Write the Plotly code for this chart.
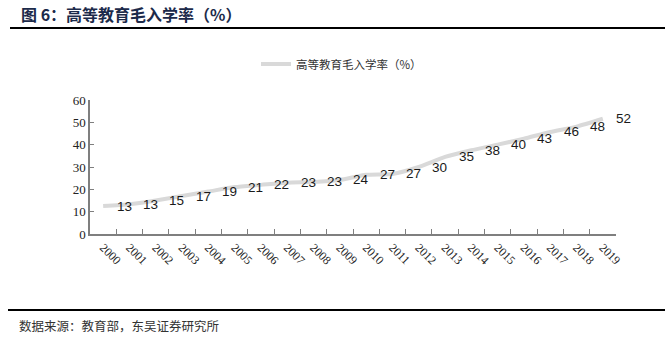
import plotly.graph_objects as go

years = [str(y) for y in range(2000, 2020)]
rates = [12.5, 13.3, 15.0, 17.0, 19.0, 21.0, 22.0, 23.0, 23.3, 24.2,
         26.5, 26.9, 30.0, 34.5, 37.5, 40.0, 42.7, 45.7, 48.1, 51.6]
labels = ["13", "13", "15", "17", "19", "21", "22", "23", "23", "24",
          "27", "27", "30", "35", "38", "40", "43", "46", "48", "52"]
y_ticks = [0, 10, 20, 30, 40, 50, 60]
series_name = "高等教育毛入学率（%）"
title_text = "图 6：高等教育毛入学率（%）"
source_text = "数据来源：教育部，东吴证券研究所"

W, H = 672, 338
L, R, T, B = 90, 56, 100, 104


def px_x(p):
    return (p - L) / (W - L - R)


def px_y(p):
    return (H - B - p) / (H - T - B)


fig = go.Figure()
fig.add_trace(go.Scatter(
    x=years, y=rates, mode="lines", name=series_name,
    line=dict(color="#d9d9d9", width=4, shape="spline", smoothing=0.6),
    showlegend=True,
))

for i, (yv, t) in enumerate(zip(rates, labels)):
    fig.add_annotation(x=i, y=yv, text=t, showarrow=False, xshift=21,
                       font=dict(family="Liberation Sans, Arial", size=13.5, color="#1a1a1a"),
                       xref="x", yref="y")

# Title, separators, source
fig.add_annotation(x=px_x(19), y=px_y(14), xref="paper", yref="paper", xanchor="left",
                   yanchor="middle", showarrow=False, text="<b>" + title_text + "</b>",
                   font=dict(family="Noto Sans CJK SC", size=16, color="#1c2a4a"))
fig.add_annotation(x=px_x(17), y=px_y(325), xref="paper", yref="paper", xanchor="left",
                   yanchor="middle", showarrow=False, text=source_text,
                   font=dict(family="Noto Sans CJK SC", size=12.5, color="#333333"))

fig.add_shape(type="line", xref="paper", yref="paper",
              x0=px_x(10), x1=px_x(665), y0=px_y(28), y1=px_y(28),
              line=dict(color="#000000", width=2))
fig.add_shape(type="line", xref="paper", yref="paper",
              x0=px_x(8), x1=px_x(665), y0=px_y(310), y1=px_y(310),
              line=dict(color="#000000", width=2))

fig.update_layout(
    width=W, height=H,
    margin=dict(l=L, r=R, t=T, b=B),
    paper_bgcolor="white", plot_bgcolor="white",
    showlegend=True,
    legend=dict(x=px_x(256), y=px_y(64), xanchor="left", yanchor="middle",
                orientation="h", font=dict(family="Noto Sans CJK SC", size=11.5, color="#333333"),
                bgcolor="rgba(0,0,0,0)", itemwidth=30),
    xaxis=dict(type="category", range=[-0.5, len(years) - 0.5], showgrid=False,
               showline=True, linecolor="#7f7f7f",
               linewidth=1.5, ticks="inside", ticklen=5, tickcolor="#7f7f7f",
               tickson="boundaries", tickangle=45,
               tickfont=dict(family="Liberation Serif, Times New Roman", size=12, color="#222222")),
    yaxis=dict(range=[0, 60], tickvals=y_ticks, showgrid=False, zeroline=False,
               showline=True, linecolor="#7f7f7f", linewidth=1.5,
               ticks="inside", ticklen=4, tickcolor="#7f7f7f",
               tickfont=dict(family="Liberation Serif, Times New Roman", size=13, color="#222222")),
)

fig.write_html("out.html")
